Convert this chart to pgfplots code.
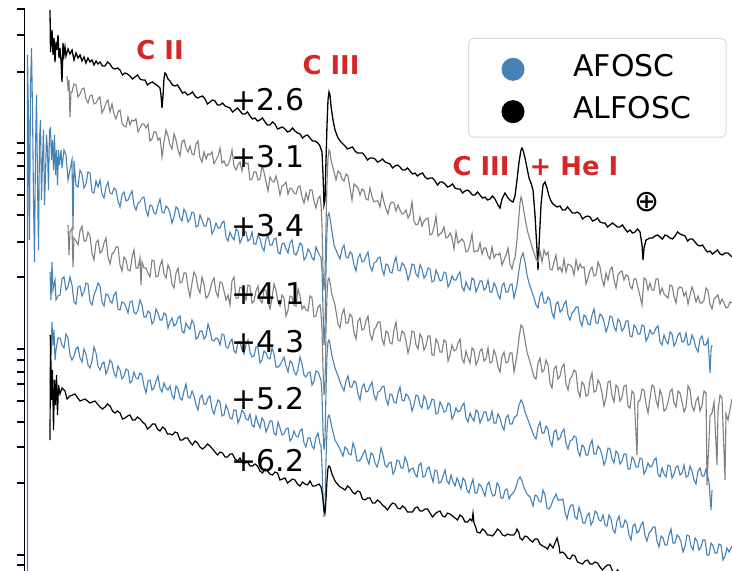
\documentclass[border=0pt]{standalone}
\usepackage{pgfplots}
\pgfplotsset{compat=1.18}
\usepackage{fontspec}
\setmainfont{DejaVu Sans}
\definecolor{afosc}{RGB}{70,130,180}
\definecolor{midgray}{RGB}{128,128,128}
\definecolor{linered}{RGB}{214,39,40}

\begin{document}
\begin{tikzpicture}[x=1bp,y=1bp]
\useasboundingbox (0,0) rectangle (732,571);
\clip (0,0) rectangle (732,571);
\begin{axis}[
  at={(24.5bp,562bp)}, anchor=north west,
  scale only axis, width=735.5bp, height=591bp,
  xmin=24.5, xmax=760, ymin=9, ymax=600, y dir=reverse,
  axis x line=none, axis y line*=left,
  axis line style={line width=1.8bp, black},
  xtick=\empty,
  ytick={9,35,72,143,153,166,179,195,215,242,277,349,360,372,384,401,422,447,483,555,565},
  yticklabels={},
  tick align=outside, major tick length=7bp,
  every tick/.style={black, line width=1.3bp},
  legend style={at={(axis cs:468,38)}, anchor=north west, draw=black!15, line width=1bp,
    rounded corners=5bp, fill=white, inner xsep=33bp, inner ysep=14bp,
    font=\fontsize{30}{36}\selectfont, row sep=14bp,
    /tikz/every odd column/.append style={column sep=47bp}},
  legend cell align=left,
]
\addlegendimage{legend image code/.code={\fill[afosc] (0bp,-3bp) circle (11bp);}}
\addlegendentry{AFOSC}
\addlegendimage{legend image code/.code={\fill[black] (0bp,-3bp) circle (11bp);}}
\addlegendentry{ALFOSC}

% +2.6 d, ALFOSC
\addplot[forget plot, black, line width=1.3bp] coordinates {
(50,10)(50.5,52)(52,30)(53,55)(54,38)(55,62)(56,42)(57,50)(58,35)(59,58)(60,48)(61,60)(62,82)(63,43)(64,55)(65,47)(66,56)(68,49)(70,54)(72,50)(74,60)(76,53)(78,58)(80,55)(82,61)(84,57)(86,63)(88,58)(90,62)(92,60)(94,65)(96,61)(98,64)(100,62)
(102.5,66)(105,66)(107.5,62)(110,64)(112.5,68)(115,69)(117.5,68)(120,70)(122.5,75)(125,73)(127.5,74)(130,76)(132.5,79)(135,77)(137.5,75)(140,79)(142.5,80)(145,80)(147.5,85)(150,83)(152.5,82)(155,84)(158,86)(160,88)(161,95)(162,108)(163,96)(164,78)(165,73)(166,74)(168,79)(170,81)(172.5,85)(175,86)(177.5,85)(180,89)(182.5,93)(185,92)(187.5,95)(190,94)(192.5,92)(195,96)(197.5,98)(200,97)
(202.5,96)(205,99)(207.5,104)(210,102)(212.5,100)(215,101)(217.5,105)(220,105)(222.5,103)(225,106)(227.5,107)(230,108)(232.5,112)(235,110)(237.5,108)(240,111)(242.5,114)(245,114)(247.5,112)(250,116)(252.5,119)(255,118)(257.5,121)(260,120)(262.5,118)(265,122)(267.5,125)(270,125)(272.5,122)(275,124)(277.5,129)(280,128)(282.5,127)(285,129)(287.5,132)(290,131)(292.5,128)(295,131)(297.5,133)(300,134)(302.5,138)(305,136)(307.5,135)(310,138)(312.5,141)(315,141)(318,143)(320,146)(322,152)(323,175)(324,205)(325,200)(326,160)(327,125)(328,100)(329,92)(330,95)(331,106)(333,120)(335,130)(338,138)(341,142)(345,146)(347.5,149)(350,148)
(352.5,147)(355,151)(357.5,153)(360,153)(362.5,153)(365,156)(367.5,160)(370,158)(372.5,158)(375,159)(377.5,162)(380,161)(382.5,159)(385,162)(387.5,163)(390,164)(392.5,168)(395,166)(397.5,165)(400,167)(402.5,170)(405,170)(407.5,168)(410,171)(412.5,174)(415,173)(417.5,176)(420,174)(422.5,173)(425,177)(427.5,179)(430,178)(432.5,178)(435,181)(437.5,185)(440,182)(442.5,182)(445,184)(447.5,187)(450,186)(452.5,184)(455,188)(457.5,189)(460,189)(462.5,193)(465,191)(467.5,190)(470,192)(472.5,195)(475,195)(477.5,192)(480,195)(482.5,198)(485,197)(487.5,200)(490,199)(492.5,196)(495,199)(498,205)(500,208)
(502,199)(505,193)(508,198)(511,201)(513,202)(515,196)(517,180)(519,162)(521,150)(522,148)(523,150)(525,158)(527,168)(529,178)(531,183)(533,190)(535,215)(537,250)(538,270)(539,245)(541,205)(543,185)(545,182)(547,188)(549,196)(551,201)(553,204)(557,207)(560,206)(562.5,210)(565,210)(567.5,207)(570,210)(572.5,213)(575,213)(577.5,212)(580,214)(582.5,219)(585,217)(587.5,216)(590,217)(592.5,221)(595,220)(597.5,218)(600,222)
(602.5,223)(605,223)(607.5,227)(610,225)(612.5,223)(615,225)(617.5,227)(620,227)(622.5,225)(625,229)(627.5,232)(630,230)(632.5,233)(635,232)(637.5,229)(640,232)(642,245)(643,260)(644,248)(646,240)(650,238)(652.5,238)(655,236)(657.5,235)(660,237)(662.5,239)(665,235)(667.5,236)(670,238)(672.5,239)(675,236)(677.5,232)(680,234)(682.5,235)(685,236)(687.5,241)(690,239)(692.5,239)(695,242)(697.5,245)(700,246)(702.5,245)(705,249)(707.5,252)(710,251)(712.5,254)(715,252)(717.5,250)(720,254)(722.5,255)(725,253)(728,253)(732,257)
};

% +3.1 d
\addplot[forget plot, midgray, line width=1.1bp] coordinates {
(67,76)(68,88)(69,80)(70,117)(71,92)(72,92)(74,84)(76,85)(78,97)(80,94)(82,89)(84,88)(86,99)(88,103)(90,96)(92,95)(94,104)(96,103)(98,99)(100,97)(102,113)(104,109)(106,103)(108,100)(110,112)(112,104)(114,114)(116,119)(118,112)(120,110)(122,123)(124,126)(126,127)(128,117)(130,125)(132,120)(134,121)(136,119)(138,132)(140,128)(142,124)(144,124)(146,128)(148,124)(150,141)(152,139)(154,132)(156,132)(158,140)(160,138)(161,146)(162,157)(163,150)(164,142)(166,130)(168,136)(170,145)(172,149)(174,134)(176,140)(178,150)(180,156)(182,142)(184,140)(186,148)(188,152)(190,146)(192,154)(194,155)(196,144)(198,141)(200,158)
(202,162)(204,152)(206,159)(208,154)(210,155)(212,152)(214,164)(216,160)(218,156)(220,148)(222,163)(224,161)(226,166)(228,165)(230,160)(232,150)(234,166)(236,170)(238,165)(240,162)(242,171)(244,160)(246,164)(248,163)(250,180)(252,179)(254,172)(256,172)(258,180)(260,179)(262,166)(264,172)(266,182)(268,191)(270,177)(272,181)(274,182)(276,176)(278,184)(280,195)(282,186)(284,185)(286,182)(288,194)(290,188)(292,189)(294,193)(296,194)(298,187)(300,186)(302,197)(304,203)(306,193)(308,200)(310,190)(312,190)(314,201)(316,208)(318,199)(320,196)(321,205)(322,225)(323,270)(324,290)(325,275)(326,225)(327,182)(328,158)(329,150)(330,152)(331,160)(333,168)(336,180)(338,171)(340,173)(342,179)(344,181)(346,174)(348,176)(350,188)
(352,200)(354,184)(356,186)(358,188)(360,195)(362,189)(364,191)(366,199)(368,200)(370,188)(372,197)(374,202)(376,201)(378,201)(380,207)(382,193)(384,202)(386,209)(388,214)(390,204)(392,202)(394,203)(396,211)(398,205)(400,210)(402,214)(404,213)(406,210)(408,218)(410,214)(412,202)(414,221)(416,225)(418,224)(420,217)(422,226)(424,221)(426,219)(428,218)(430,235)(432,234)(434,227)(436,216)(438,236)(440,234)(442,232)(444,227)(446,238)(448,237)(450,233)(452,238)(454,249)(456,232)(458,243)(460,241)(462,239)(464,242)(466,252)(468,251)(470,244)(472,234)(474,252)(476,251)(478,251)(480,243)(482,254)(484,248)(486,248)(488,256)(490,259)(492,247)(494,258)(496,254)(498,255)(500,253)
(502,265)(504,260)(506,255)(508,248)(510,264)(512,269)(514,260)(515,258)(517,240)(519,215)(520,203)(521,197)(522,200)(524,212)(526,224)(528,233)(530,240)(533,250)(536,259)(538,262)(540,251)(542,262)(544,250)(546,255)(548,252)(550,269)(552,270)(554,262)(556,255)(558,270)(560,267)(562,272)(564,259)(566,272)(568,264)(570,265)(572,267)(574,275)(576,260)(578,270)(580,264)(582,268)(584,267)(586,284)(588,278)(590,270)(592,267)(594,276)(596,275)(598,262)(600,267)
(602,279)(604,286)(606,273)(608,280)(610,270)(612,267)(614,280)(616,288)(618,275)(620,272)(622,271)(624,280)(626,275)(628,276)(630,286)(632,289)(634,279)(636,279)(638,288)(640,296)(642,305)(644,278)(646,280)(648,290)(650,283)(652,290)(654,290)(656,279)(658,279)(660,294)(662,288)(664,294)(666,296)(668,298)(670,285)(672,286)(674,296)(676,303)(678,289)(680,287)(682,288)(684,296)(686,292)(688,304)(690,295)(692,287)(694,293)(696,302)(698,296)(700,303)(702,303)(704,300)(706,288)(708,291)(710,304)(712,309)(714,299)(716,297)(718,295)(720,304)(722,299)(724,303)(726,308)(728,307)(730,302)(732,303)
};

% +3.4 d, AFOSC
\addplot[forget plot, afosc, line width=1.1bp] coordinates {
(27.5,600)(27.5,55)(28.5,120)(29.5,240)(30.5,90)(31.5,48)(32.5,110)(33.5,200)(34.5,262)(35.5,150)(36.5,95)(37.5,180)(38.5,250)(39.5,140)(40.5,120)(41.5,200)(42.5,160)(43.5,130)(44.5,205)(45.5,175)(46.5,135)(47.5,150)(48.5,190)(49.5,130)(50.5,128)(51.5,160)(52.5,140)(53.5,170)(54.5,135)(55.5,175)(56.5,150)(57.5,185)(58.5,150)(59.5,165)(61,150)(62,168)(64,150)(66,155)(68,180)(70,170)(72,160)(73,230)(74,161)(76,185)(78,187)(80,170)(82,174)(84,188)(86,184)(88,172)(90,173)(92,192)(94,193)(96,181)(98,187)(100,180)
(102,194)(104,198)(106,187)(108,182)(110,193)(112,194)(114,188)(116,190)(118,201)(120,207)(122,195)(124,192)(126,201)(128,200)(130,195)(132,191)(134,205)(136,210)(138,203)(140,202)(142,198)(144,197)(146,210)(148,216)(150,205)(152,206)(154,213)(156,214)(158,205)(160,199)(162,212)(164,213)(166,206)(168,208)(170,213)(172,223)(174,217)(176,207)(178,209)(180,218)(182,221)(184,209)(186,213)(188,222)(190,219)(192,212)(194,213)(196,227)(198,226)(200,215)
(202,220)(204,226)(206,226)(208,218)(210,220)(212,234)(214,230)(216,223)(218,228)(220,228)(222,223)(224,221)(226,237)(228,241)(230,232)(232,237)(234,240)(236,229)(238,231)(240,243)(242,238)(244,232)(246,232)(248,241)(250,239)(252,232)(254,244)(256,244)(258,235)(260,239)(262,247)(264,251)(266,239)(268,236)(270,245)(272,245)(274,239)(276,238)(278,252)(280,254)(282,244)(284,243)(286,249)(288,253)(290,243)(292,240)(294,253)(296,255)(298,250)(300,243)
(302,245)(304,260)(306,257)(308,249)(310,252)(312,258)(314,260)(316,247)(318,252)(321,258)(322,270)(323,310)(324,345)(325,330)(326,270)(327,230)(328,215)(329,213)(330,218)(332,232)(334,245)(336,250)
(338,255)(340,259)(342,249)(344,245)(346,257)(348,258)(350,252)(352,254)(354,265)(356,271)(358,258)(360,254)(362,262)(364,261)(366,256)(368,252)(370,266)(372,271)(374,263)(376,262)(378,258)(380,257)(382,269)(384,275)(386,264)(388,265)(390,272)(392,273)(394,263)(396,257)(398,270)(400,271)
(402,263)(404,265)(406,270)(408,280)(410,274)(412,264)(414,265)(416,274)(418,277)(420,265)(422,269)(424,278)(426,275)(428,268)(430,269)(432,282)(434,281)(436,270)(438,275)(440,281)(442,280)(444,272)(446,273)(448,287)(450,283)(452,276)(454,280)(456,280)(458,275)(460,272)(462,287)(464,291)(466,282)(468,287)(470,290)(472,278)(474,280)(476,292)(478,287)(480,281)(482,281)(484,290)(486,288)(488,280)(490,292)(492,292)(494,283)(496,287)(498,295)(500,299)
(502,286)(504,283)(506,292)(508,292)(510,285)(512,284)(514,298)(517,285)(519,270)(521,258)(523,253)(525,262)(527,275)(529,283)(532,292)(534,298)
(536,305)(538,308)(540,296)(542,292)(544,303)(546,303)(548,297)(550,300)(552,313)(554,318)(556,304)(558,302)(560,312)(562,310)(564,304)(566,301)(568,315)(570,320)(572,313)(574,311)(576,307)(578,307)(580,321)(582,326)(584,315)(586,317)(588,324)(590,325)(592,315)(594,309)(596,323)(598,323)(600,314)
(602,316)(604,322)(606,332)(608,326)(610,316)(612,317)(614,327)(616,331)(618,319)(620,322)(622,331)(624,328)(626,321)(628,321)(630,336)(632,337)(634,325)(636,328)(638,334)(640,334)(642,325)(644,326)(646,341)(648,337)(650,330)(652,334)(654,333)(656,328)(658,326)(660,342)(662,345)(664,335)(666,341)(668,344)(670,332)(672,334)(674,346)(676,342)(678,335)(680,333)(682,342)(684,341)(686,333)(688,345)(690,344)(692,335)(694,340)(696,348)(698,352)(700,339)(702,336)(704,345)(706,345)(708,339)(710,373)(711,350)(712,345)
};

% +4.1 d
\addplot[forget plot, midgray, line width=1.1bp] coordinates {
(68,225)(69,255)(70,232)(72,228)(73,267)(74,238)(76,241)(78,245)(80,231)(82,226)(84,241)(86,241)(88,232)(90,236)(92,253)(94,260)(96,243)(98,240)(100,253)(102,251)(104,243)(106,238)(108,257)(110,264)(112,254)(114,252)(116,247)(118,247)(120,265)(122,271)(124,257)(126,260)(128,270)(130,271)(132,258)(134,250)(136,268)(138,268)(140,258)(141,285)(142,262)(144,268)(146,268)(148,273)(150,277)(152,260)(154,261)(156,277)(158,276)(160,266)(162,260)(164,274)(166,278)(168,265)(170,270)(172,284)(174,288)(176,273)(178,268)(180,283)(182,282)(184,273)(186,273)(188,287)(190,297)(192,283)(194,272)(196,276)(198,288)(200,293)
(202,277)(204,284)(206,298)(208,296)(210,290)(212,282)(214,278)(216,292)(218,297)(220,282)(222,283)(224,291)(226,300)(228,295)(230,305)(232,281)(234,277)(236,298)(238,298)(240,287)(242,288)(244,295)(246,300)(248,285)(250,286)(252,303)(254,301)(256,291)(258,286)(260,300)(262,303)(264,289)(266,291)(268,302)(270,309)(272,298)(274,284)(276,290)(278,302)(280,306)(282,295)(284,298)(286,316)(288,310)(290,296)(292,297)(294,305)(296,306)(298,289)(300,296)
(302,309)(304,306)(306,310)(308,311)(310,296)(312,298)(314,317)(316,316)(318,307)(320,305)(321,313)(322,330)(323,370)(324,395)(325,385)(326,330)(327,295)(328,280)(329,278)(330,282)(332,295)(335,305)
(338,324)(340,328)(342,314)(344,309)(346,323)(348,323)(350,314)(352,317)(354,333)(356,339)(358,321)(360,318)(362,330)(364,329)(366,321)(368,316)(370,334)(372,340)(374,330)(376,327)(378,322)(380,322)(382,339)(384,345)(386,331)(388,333)(390,343)(392,344)(394,330)(396,322)(398,340)(400,341)
(402,331)(404,333)(406,341)(408,353)(410,345)(412,331)(414,332)(416,345)(418,349)(420,334)(422,338)(424,350)(426,346)(428,336)(430,336)(432,355)(434,355)(436,339)(438,343)(440,352)(442,352)(444,340)(446,342)(448,361)(450,355)(452,345)(454,351)(456,350)(458,343)(460,339)(462,359)(464,363)(466,351)(468,358)(470,363)(472,348)(474,350)(476,365)(478,360)(480,351)(482,349)(484,361)(486,359)(488,348)(490,363)(492,362)(494,350)(496,356)(498,367)(500,372)
(502,356)(504,352)(506,363)(508,362)(510,353)(512,353)(514,372)(517,355)(519,338)(521,325)(523,328)(525,340)(527,352)(530,362)
(534,377)(536,379)(538,363)(540,358)(542,372)(544,370)(546,360)(548,365)(550,383)(552,388)(554,369)(556,366)(558,379)(560,376)(562,367)(564,364)(566,384)(568,390)(570,379)(572,376)(574,370)(576,372)(578,391)(580,397)(582,382)(584,385)(586,396)(588,395)(590,380)(592,373)(594,392)(596,391)(598,380)(600,384)
(602,393)(604,406)(606,398)(608,382)(610,381)(612,396)(614,402)(616,385)(618,388)(620,401)(622,397)(624,386)(626,385)(628,406)(630,408)(632,391)(634,394)(637,455)(638,402)(640,400)(642,389)(644,390)(646,404)(648,413)(650,398)(652,385)(654,387)(656,400)(658,407)(660,390)(662,396)(664,411)(666,409)(668,402)(670,392)(672,389)(674,403)(676,407)(678,391)(680,393)(682,402)(684,412)(686,407)(688,386)(690,390)(692,406)(694,411)(696,401)(698,397)(700,411)(702,405)(704,391)(706,393)(707,485)(710,416)(712,413)(714,402)(717,465)(718,411)(720,395)(722,398)(725,480)(726,414)(728,420)(730,409)(732,399)
};

% +4.3 d, AFOSC
\addplot[forget plot, afosc, line width=1.1bp] coordinates {
(50,272)(51,300)(52,262)(53,290)(55,280)(56,300)(58,296)(60,295)(62,279)(64,277)(66,290)(68,287)(70,277)(72,285)(74,302)(76,304)(78,287)(80,286)(82,296)(84,292)(86,283)(88,284)(90,302)(92,305)(94,295)(96,290)(98,283)(100,286)
(102,302)(104,306)(106,294)(108,295)(110,301)(112,303)(114,295)(116,292)(118,309)(120,310)(122,302)(124,303)(126,307)(128,313)(130,302)(132,301)(134,312)(136,314)(138,310)(140,300)(142,305)(144,317)(146,317)(148,311)(150,313)(152,324)(154,321)(156,309)(158,313)(160,320)(162,320)(164,313)(166,315)(168,328)(170,322)(172,318)(174,326)(176,324)(178,318)(180,316)(182,331)(184,333)(186,323)(188,327)(190,329)(192,320)(194,324)(196,339)(198,337)(200,331)
(202,331)(204,339)(206,336)(208,324)(210,331)(212,340)(214,341)(216,338)(218,339)(220,345)(222,334)(224,335)(226,347)(228,348)(230,342)(232,339)(234,351)(236,353)(238,342)(240,342)(242,350)(244,354)(246,344)(248,340)(250,352)(252,357)(254,356)(256,347)(258,348)(260,363)(262,360)(264,351)(266,353)(268,358)(270,359)(272,348)(274,354)(276,367)(278,367)(280,365)(282,361)(284,357)(286,366)(288,372)(290,361)(292,363)(294,371)(296,375)(298,369)(300,357)
(302,364)(304,375)(306,377)(308,373)(310,372)(312,385)(314,381)(316,371)(318,372)(321,380)(322,395)(323,430)(324,450)(325,440)(326,390)(327,355)(328,342)(329,340)(330,344)(332,356)(335,368)(338,376)
(342,387)(344,391)(346,381)(348,376)(350,387)(352,387)(354,381)(356,383)(358,394)(360,400)(362,387)(364,384)(366,392)(368,391)(370,386)(372,382)(374,395)(376,400)(378,392)(380,391)(382,387)(384,386)(386,399)(388,405)(390,394)(392,395)(394,402)(396,403)(398,393)(400,387)
(402,400)(404,401)(406,394)(408,396)(410,401)(412,411)(414,405)(416,395)(418,396)(420,405)(422,408)(424,396)(426,400)(428,409)(430,406)(432,399)(434,400)(436,414)(438,413)(440,402)(442,406)(444,412)(446,411)(448,403)(450,405)(452,419)(454,415)(456,408)(458,412)(460,411)(462,406)(464,403)(466,418)(468,422)(470,413)(472,418)(474,421)(476,410)(478,412)(480,423)(482,418)(484,412)(486,412)(488,421)(490,419)(492,411)(494,423)(496,423)(498,414)(500,418)
(502,426)(504,430)(506,418)(508,415)(510,424)(512,424)(514,418)(517,415)(519,405)(521,400)(523,404)(525,412)(528,420)(531,428)
(534,436)(536,439)(538,427)(540,422)(542,433)(544,433)(546,426)(548,429)(550,441)(552,446)(554,432)(556,430)(558,440)(560,438)(562,432)(564,429)(566,444)(568,449)(570,441)(572,440)(574,436)(576,437)(578,451)(580,456)(582,445)(584,447)(586,455)(588,455)(590,445)(592,440)(594,454)(596,454)(598,446)(600,449)
(602,455)(604,465)(606,459)(608,448)(610,449)(612,459)(614,463)(616,451)(618,454)(620,464)(622,461)(624,454)(626,454)(628,469)(630,469)(632,457)(634,460)(636,467)(638,467)(640,458)(642,459)(644,474)(646,470)(648,463)(650,467)(652,466)(654,460)(656,458)(658,474)(660,477)(662,468)(664,474)(666,477)(668,465)(670,466)(672,478)(674,474)(676,467)(678,466)(680,475)(682,473)(684,465)(686,477)(688,476)(690,466)(692,471)(694,480)(696,484)(698,471)(700,468)(702,476)(704,476)(706,469)(709,482)(711,510)(712,490)
};

% +5.2 d, AFOSC
\addplot[forget plot, afosc, line width=1.1bp] coordinates {
(50,335)(51,355)(52,322)(53,345)(54,330)(55,360)(56,350)(58,338)(60,338)(62,345)(64,348)(66,334)(68,338)(70,355)(72,360)(74,356)(76,349)(78,347)(80,358)(82,362)(84,349)(86,354)(88,365)(90,368)(92,361)(94,347)(96,353)(98,366)(100,370)
(102,364)(104,362)(106,374)(108,369)(110,360)(112,363)(114,373)(116,377)(118,366)(120,370)(122,379)(124,376)(126,369)(128,370)(130,383)(132,381)(134,372)(136,378)(138,379)(140,373)(142,375)(144,386)(146,393)(148,381)(150,380)(152,390)(154,388)(156,381)(158,376)(160,388)(162,392)(164,383)(166,388)(168,390)(170,386)(172,395)(174,399)(176,386)(178,389)(180,398)(182,400)(184,391)(186,384)(188,397)(190,398)(192,391)(194,396)(196,405)(198,410)(200,398)
(202,395)(204,404)(206,404)(208,398)(210,396)(212,409)(214,414)(216,406)(218,400)(220,402)(222,416)(224,415)(226,405)(228,410)(230,418)(232,419)(234,410)(236,410)(238,423)(240,418)(242,410)(244,413)(246,419)(248,420)(250,414)(252,425)(254,427)(256,416)(258,423)(260,428)(262,418)(264,421)(266,432)(268,427)(270,421)(272,421)(274,433)(276,435)(278,422)(280,428)(282,435)(284,434)(286,429)(288,428)(290,441)(292,438)(294,431)(296,436)(298,437)(300,431)
(302,429)(304,443)(306,447)(308,438)(310,438)(312,446)(314,449)(316,437)(318,433)(320,444)(321,446)(322,465)(323,495)(324,517)(325,505)(326,460)(327,430)(328,417)(329,415)(330,418)(332,428)(335,440)(339,447)
(343,456)(345,447)(347,449)(349,454)(351,455)(353,443)(355,449)(357,461)(359,461)(361,459)(363,454)(365,450)(367,459)(369,464)(371,453)(373,455)(375,463)(377,467)(379,460)(381,448)(383,455)(385,465)(387,467)(389,463)(391,462)(393,474)(395,470)(397,460)(399,461)
(401,468)(403,468)(405,457)(407,462)(409,472)(411,469)(413,468)(415,474)(417,477)(419,465)(421,463)(423,477)(425,476)(427,469)(429,467)(431,475)(433,482)(435,470)(437,471)(439,483)(441,482)(443,476)(445,470)(447,481)(449,484)(451,475)(453,482)(455,486)(457,478)(459,483)(461,489)(463,478)(465,481)(467,490)(469,493)(471,485)(473,479)(475,493)(477,493)(479,484)(481,486)(483,491)(485,496)(487,485)(489,482)(491,491)(493,496)(495,495)(497,483)(499,486)(501,498)(503,498)(505,490)(507,489)(509,499)(511,495)(514,492)(516,487)(518,480)(520,477)(522,481)(524,488)(527,494)(530,497)
(533,506)(535,495)(537,496)(539,501)(541,502)(543,490)(545,495)(547,508)(549,509)(551,506)(553,500)(556,494)(558,500)(561,500)(563,499)(565,512)(567,519)(569,510)(571,505)(573,505)(575,517)(577,519)(579,507)(581,514)(583,523)(585,523)(587,516)(589,513)(591,525)(593,521)(595,511)(597,513)(599,520)
(601,521)(603,515)(605,525)(607,526)(609,515)(611,519)(613,530)(615,533)(617,521)(619,516)(621,527)(623,527)(625,520)(627,523)(629,535)(631,540)(633,526)(635,524)(637,533)(639,531)(641,525)(643,522)(645,536)(647,541)(649,533)(651,531)(653,527)(655,527)(657,541)(659,547)(661,536)(663,538)(665,545)(667,545)(669,535)(671,529)(673,543)(675,543)(677,535)(679,537)(681,542)(683,552)(685,546)(687,535)(689,536)(691,546)(693,550)(695,538)(697,541)(699,550)(701,547)(703,540)(705,540)(707,555)(709,555)(711,543)(713,546)(715,553)(717,553)(719,544)(721,545)(723,560)(725,556)(727,548)(729,552)(732,546)
};

% +6.2 d, ALFOSC
\addplot[forget plot, black, line width=1.2bp] coordinates {
(50,440)(50.5,335)(51.5,400)(52.5,370)(53.5,430)(54.5,380)(55.5,405)(56.5,375)(57.5,415)(58.5,385)(60,394)(62,388)(65,391)(67,399)(70,396)(75,394)(80,401)(85,399)(90,403)(95,401)(100,407)(102.5,409)(105,407)(107.5,404)(110,406)(112.5,411)(115,413)(117.5,411)(120,413)(122.5,419)(125,418)(127.5,416)(130,415)(132.5,420)(135,420)(137.5,417)(140,419)(142.5,422)(145,424)(147.5,429)(150,427)(152.5,424)(155,424)(157.5,429)(160,431)(162.5,427)(165,429)(167.5,434)(170,434)(172.5,435)(175,432)(177.5,433)(180,440)(182.5,440)(185,438)(187.5,438)(190,442)(192.5,445)(195,441)(197.5,443)(200,447)
(202.5,449)(205,447)(207.5,444)(210,446)(212.5,449)(215,452)(217.5,455)(220,452)(222.5,453)(225,457)(227.5,457)(230,454)(232.5,454)(235,459)(237.5,461)(240,458)(242.5,463)(245,463)(247.5,462)(250,466)(252.5,466)(255,464)(257.5,466)(260,471)(262.5,473)(265,469)(267.5,471)(270,474)(272.5,475)(275,472)(277.5,473)(280,480)(282.5,479)(285,478)(287.5,483)(290,481)(292.5,479)(295,480)(297.5,484)(300,486)(302.5,482)(305,484)(307.5,485)(310,481)(312.5,486)(315,486)(319,484)(321,487)(322,492)(323,500)(324,510)(325,513)(326,500)(327,480)(328,468)(329,466)(330,467)(332,474)(335,481)(339,486)
(345,490)(347.5,486)(350,488)(352.5,492)(355,494)(357.5,491)(360,492)(362.5,499)(365,500)(367.5,498)(370,498)(372.5,503)(375,503)(377.5,500)(380,502)(382.5,505)(385,507)(387.5,510)(390,506)(392.5,503)(395,504)(397.5,508)(400,509)(402.5,506)(405,508)(407.5,512)(410,512)(412.5,512)(415,508)(417.5,507)(420,511)(422.5,511)(425,509)(427.5,509)(430,513)(432.5,517)(435,514)(437.5,512)(440,511)(442.5,516)(445,517)(447.5,513)(450,514)(452.5,516)(455,518)(457.5,520)(460,515)(462.5,517)(465,522)(467.5,522)(470,519)(472,521)(473,513)(474,523)(476,528)(477,532)(480,533)
(482.5,529)(485,531)(487.5,535)(490,535)(492.5,536)(495,533)(497.5,529)(500,531)(502.5,535)(505,536)(507.5,534)(510,535)(514,535)(516,532)(517,529)(519,533)(520,538)(522.5,540)(525,536)(527.5,537)(530,540)(532.5,542)(535,539)(537.5,539)(540,544)(542.5,546)(545,547)(547.5,549)(550,544)(553,548)(555,543)(557,538)(559,546)(560,553)(562.5,552)(565,554)(567.5,558)(570,559)(572.5,555)(575,556)(577.5,562)(580,563)(582.5,564)(585,561)(587.5,560)(590,564)(592.5,564)(595,562)(597.5,563)(600,567)(602.5,570)(605,567)(607.5,565)(610,565)(612.5,571)(615,573)(617.5,570)(620,573)(622.5,576)(625,578)(627.5,580)(630,575)(640,580)
};

% phase labels
\node[font=\fontsize{30}{36}\selectfont] at (axis cs:268,100) {+2.6};
\node[font=\fontsize{30}{36}\selectfont] at (axis cs:268,157) {+3.1};
\node[font=\fontsize{30}{36}\selectfont] at (axis cs:268,226) {+3.4};
\node[font=\fontsize{30}{36}\selectfont] at (axis cs:268,294) {+4.1};
\node[font=\fontsize{30}{36}\selectfont] at (axis cs:268,342) {+4.3};
\node[font=\fontsize{30}{36}\selectfont] at (axis cs:268,399) {+5.2};
\node[font=\fontsize{30}{36}\selectfont] at (axis cs:268,461) {+6.2};

% line identifications
\node[font=\fontsize{26}{30}\selectfont\bfseries, text=linered] at (axis cs:160,50) {C II};
\node[font=\fontsize{26}{30}\selectfont\bfseries, text=linered] at (axis cs:331,65) {C III};
\node[font=\fontsize{26}{30}\selectfont\bfseries, text=linered] at (axis cs:481,166) {C III};
\node[font=\fontsize{26}{30}\selectfont\bfseries, text=linered] at (axis cs:574,166) {+ He I};
\node[font=\fontsize{30}{36}\selectfont] at (axis cs:647,202) {⊕};
\end{axis}
\end{tikzpicture}
\end{document}
